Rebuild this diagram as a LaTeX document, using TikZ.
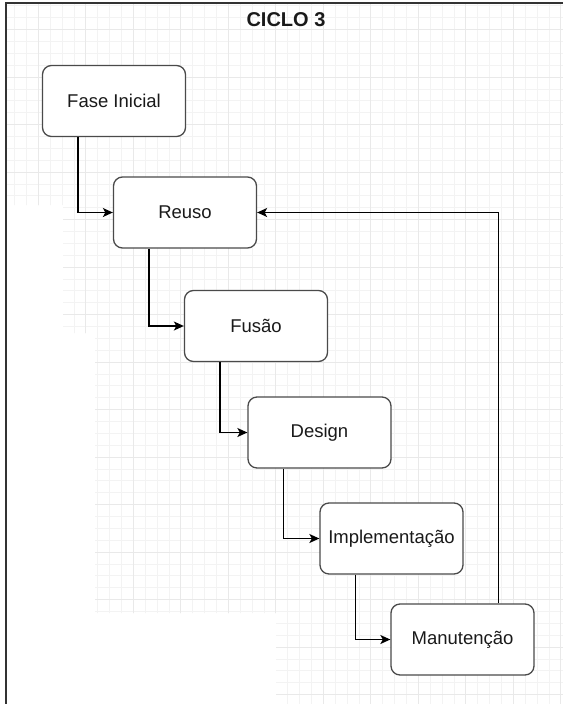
\documentclass[tikz,border=0pt]{standalone}
\usepackage{fontspec}
\setmainfont{Liberation Sans}
\usetikzlibrary{arrows.meta}
\definecolor{gridminor}{HTML}{F3F3F3}
\definecolor{gridmajor}{HTML}{E9E9E9}
\definecolor{boxline}{HTML}{4A4A4A}
\definecolor{txt}{HTML}{1A1A1A}
\tikzset{
  stepbox/.style={draw=boxline, line width=1.3pt, rounded corners=9pt, fill=white,
    minimum width=143pt, minimum height=71pt, inner sep=0pt,
    font=\fontsize{18.5}{22}\selectfont, text=txt},
  arr/.style={draw=black, line width=1.3pt, -{Stealth[length=10pt,width=9pt,inset=2.5pt]}},
}
\begin{document}
\begin{tikzpicture}[x=1pt,y=-1pt]
\useasboundingbox (0,0) rectangle (563,704);
\fill[white] (0,0) rectangle (563,704);
% grid
\begin{scope}
\clip (6,3) -- (563,3) -- (563,704) -- (276,704) -- (276,613) -- (95,613) -- (95,333) -- (63,333) -- (63,205) -- (6,205) -- cycle;
\foreach \i in {0,...,48} {
  \draw[gridminor, line width=0.8pt] (2.675+\i*11.875,0) -- ++(0,704);
}
\foreach \i in {0,...,60} {
  \draw[gridminor, line width=0.8pt] (0,-6+\i*11.875) -- ++(563,0);
}
\foreach \i in {0,...,12} {
  \draw[gridmajor, line width=0.9pt] (-9.2+\i*47.5,0) -- ++(0,704);
}
\foreach \i in {0,...,15} {
  \draw[gridmajor, line width=0.9pt] (0,-17.8+\i*47.5) -- ++(563,0);
}
\end{scope}
% frame
\draw[black!80, line width=1.2pt] (6,704) -- (6,3) -- (563,3);
% title
\node[font=\fontsize{20}{24}\selectfont\bfseries, text=txt] (title) at (286,20) {CICLO 3};
% boxes
\node[stepbox] (fase) at (114,101) {Fase Inicial};
\node[stepbox] (reuso) at (185,212.5) {Reuso};
\node[stepbox] (fusao) at (256,326) {Fusão};
\node[stepbox] (design) at (319.5,432.5) {Design};
\node[stepbox] (impl) at (391.5,538.5) {Implementação};
\node[stepbox] (manut) at (462.5,639.5) {Manutenção};
% connectors
\draw[arr] ([xshift=-36pt]fase.south) |- (reuso.west);
\draw[arr] ([xshift=-36pt]reuso.south) |- (fusao.west);
\draw[arr] ([xshift=-36pt]fusao.south) |- (design.west);
\draw[arr] ([xshift=-36pt]design.south) |- (impl.west);
\draw[arr] ([xshift=-36pt]impl.south) |- (manut.west);
\draw[arr] ([xshift=36pt]manut.north) |- (reuso.east);
\end{tikzpicture}
\end{document}
